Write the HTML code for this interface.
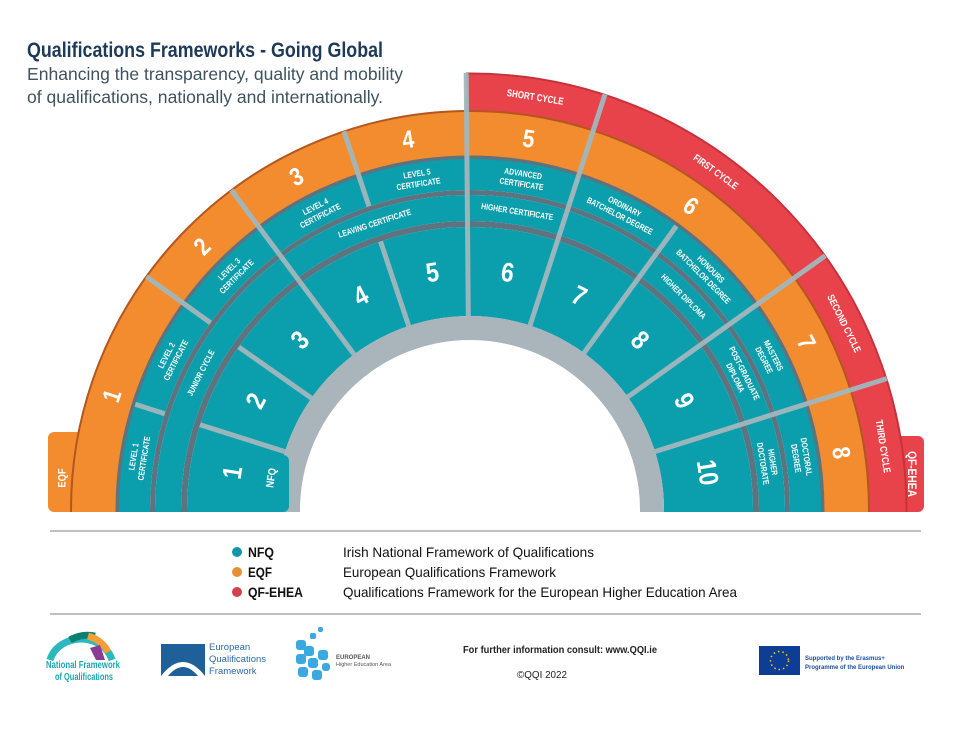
<!DOCTYPE html>
<html><head><meta charset="utf-8"><style>
html,body{margin:0;padding:0;background:#fff;overflow:hidden;width:972px;height:729px;}
body{position:relative;}
svg{position:absolute;left:0;top:0;display:block;}
.c{font-family:"Liberation Sans",sans-serif;font-weight:bold;fill:#fff;text-anchor:middle;dominant-baseline:central;}
</style></head><body>
<svg width="972" height="729" viewBox="0 0 972 729">
<defs>
<clipPath id="top"><rect x="0" y="0" width="972" height="512"/></clipPath>
<clipPath id="red"><rect x="466" y="0" width="506" height="512"/></clipPath>
</defs>
<text x="27" y="57" textLength="356" lengthAdjust="spacingAndGlyphs" style="font-family:'Liberation Sans',sans-serif;font-weight:bold;font-size:21px;fill:#1d3a58">Qualifications Frameworks - Going Global</text>
<text x="27" y="80" textLength="376" lengthAdjust="spacingAndGlyphs" style="font-family:'Liberation Sans',sans-serif;font-size:17.5px;fill:#3f5260">Enhancing the transparency, quality and mobility</text>
<text x="27" y="103" textLength="356" lengthAdjust="spacingAndGlyphs" style="font-family:'Liberation Sans',sans-serif;font-size:17.5px;fill:#3f5260">of qualifications, nationally and internationally.</text>

<rect x="48" y="432" width="40" height="80" rx="6" fill="#f28c2e"/>
<rect x="886" y="436" width="38" height="76" rx="6" fill="#e8434b"/>
<g clip-path="url(#top)">
 <g clip-path="url(#red)">
  <circle cx="470" cy="510" r="418" fill="none" stroke="#e8434b" stroke-width="38"/>
  <circle cx="470" cy="510" r="436.5" fill="none" stroke="#c6323b" stroke-width="2"/>
 </g>
 <circle cx="470" cy="510" r="376.5" fill="none" stroke="#f28c2e" stroke-width="45"/>
 <circle cx="470" cy="510" r="399" fill="none" stroke="#b3561f" stroke-width="2"/>
 <circle cx="470" cy="510" r="352.5" fill="none" stroke="#5e7380" stroke-width="4"/>
 <circle cx="470" cy="510" r="335.5" fill="none" stroke="#0b9eac" stroke-width="31"/>
 <circle cx="470" cy="510" r="317.5" fill="none" stroke="#5e7380" stroke-width="5"/>
 <circle cx="470" cy="510" r="302" fill="none" stroke="#0b9eac" stroke-width="26"/>
 <circle cx="470" cy="510" r="286" fill="none" stroke="#5e7380" stroke-width="6"/>
 <circle cx="470" cy="510" r="238.5" fill="none" stroke="#0b9eac" stroke-width="89"/>
 <circle cx="470" cy="510" r="182" fill="none" stroke="#a9b4bb" stroke-width="24"/>
</g>
<rect x="250" y="455" width="39" height="57" rx="6" fill="#0b9eac"/>
<rect x="250" y="455" width="15" height="57" fill="#0b9eac"/>

<g stroke="#a2b7bc" stroke-width="5" opacity="0.95">
 <line x1="231.4" y1="190" x2="354" y2="354.4"/>
 <line x1="466.2" y1="73" x2="468.3" y2="316"/>
 <line x1="605" y1="94.4" x2="530" y2="325.5"/>
 <line x1="825.3" y1="255.7" x2="627.7" y2="397"/>
 <line x1="886.8" y1="378.6" x2="655" y2="451.6"/>
 <line x1="146.4" y1="276.6" x2="210.5" y2="322.8"/>
 <line x1="135.2" y1="404.3" x2="164.7" y2="413.7"/>
 <line x1="200" y1="424.8" x2="284.9" y2="451.6"/>
 <line x1="344" y1="131.3" x2="369" y2="206.3"/>
 <line x1="380.6" y1="241.5" x2="408.7" y2="325.9"/>
 <line x1="238.8" y1="347" x2="311.5" y2="398.2"/>
 <line x1="676.4" y1="226" x2="584" y2="353"/>
</g>

<g class="c" style="font-size:27px">
<text transform="translate(232.9,472.5) rotate(-81) scale(0.85,1)">1</text>
<text transform="translate(256.2,401) rotate(-63) scale(0.85,1)">2</text>
<text transform="translate(300.3,340.3) rotate(-45) scale(0.85,1)">3</text>
<text transform="translate(361,296.2) rotate(-27) scale(0.85,1)">4</text>
<text transform="translate(432.5,272.9) rotate(-9) scale(0.85,1)">5</text>
<text transform="translate(507.5,272.9) rotate(9) scale(0.85,1)">6</text>
<text transform="translate(579,296.2) rotate(27) scale(0.85,1)">7</text>
<text transform="translate(639.7,340.3) rotate(45) scale(0.85,1)">8</text>
<text transform="translate(683.8,401) rotate(63) scale(0.85,1)">9</text>
<text transform="translate(707.1,472.5) rotate(81) scale(0.85,1)">10</text>
</g>
<g class="c" style="font-size:25px">
<text transform="translate(111.7,395.7) rotate(-72) scale(0.85,1)">1</text>
<text transform="translate(201.9,246.4) rotate(-45) scale(0.85,1)">2</text>
<text transform="translate(296.3,176.5) rotate(-27) scale(0.85,1)">3</text>
<text transform="translate(408,139.3) rotate(-9) scale(0.85,1)">4</text>
<text transform="translate(528.7,138.5) rotate(9) scale(0.85,1)">5</text>
<text transform="translate(691,205.8) rotate(36) scale(0.85,1)">6</text>
<text transform="translate(806.5,342.3) rotate(63) scale(0.85,1)">7</text>
<text transform="translate(841.5,452.8) rotate(81) scale(0.85,1)">8</text>
</g>
<g class="c" style="font-size:10px">
<text transform="translate(535.2,97.1) rotate(9) scale(0.8,1)">SHORT CYCLE</text>
<text transform="translate(715.8,171.8) rotate(36) scale(0.8,1)">FIRST CYCLE</text>
<text transform="translate(844.1,323.5) rotate(63.5) scale(0.8,1)">SECOND CYCLE</text>
<text transform="translate(883.1,446.4) rotate(81) scale(0.8,1)">THIRD CYCLE</text>
</g>
<g class="c" style="font-size:8.5px">
<text transform="translate(138.1,457.4) rotate(-81) scale(0.8,1)"><tspan x="0" y="-5">LEVEL 1</tspan><tspan x="0" y="5.5">CERTIFICATE</tspan></text>
<text transform="translate(170.6,357.5) rotate(-63) scale(0.8,1)"><tspan x="0" y="-5">LEVEL 2</tspan><tspan x="0" y="5.5">CERTIFICATE</tspan></text>
<text transform="translate(232.4,272.4) rotate(-45) scale(0.8,1)"><tspan x="0" y="-5">LEVEL 3</tspan><tspan x="0" y="5.5">CERTIFICATE</tspan></text>
<text transform="translate(317.5,210.6) rotate(-27) scale(0.8,1)"><tspan x="0" y="-5">LEVEL 4</tspan><tspan x="0" y="5.5">CERTIFICATE</tspan></text>
<text transform="translate(417.6,178.1) rotate(-9) scale(0.8,1)"><tspan x="0" y="-5">LEVEL 5</tspan><tspan x="0" y="5.5">CERTIFICATE</tspan></text>
<text transform="translate(522.4,178.1) rotate(9) scale(0.8,1)"><tspan x="0" y="-5">ADVANCED</tspan><tspan x="0" y="5.5">CERTIFICATE</tspan></text>
<text transform="translate(622.5,210.6) rotate(27) scale(0.8,1)"><tspan x="0" y="-5">ORDINARY</tspan><tspan x="0" y="5.5">BATCHELOR DEGREE</tspan></text>
<text transform="translate(707.6,272.4) rotate(45) scale(0.8,1)"><tspan x="0" y="-5">HONOURS</tspan><tspan x="0" y="5.5">BATCHELOR DEGREE</tspan></text>
<text transform="translate(769.4,357.5) rotate(63) scale(0.8,1)"><tspan x="0" y="-5">MASTERS</tspan><tspan x="0" y="5.5">DEGREE</tspan></text>
<text transform="translate(801.9,457.4) rotate(81) scale(0.8,1)"><tspan x="0" y="-5">DOCTORAL</tspan><tspan x="0" y="5.5">DEGREE</tspan></text>
</g>
<g class="c" style="font-size:8.5px">
<text transform="translate(200.9,372.9) rotate(-63) scale(0.8,1)">JUNIOR CYCLE</text>
<text transform="translate(374.7,223.4) rotate(-18) scale(0.8,1)">LEAVING CERTIFICATE</text>
<text transform="translate(517.2,211.7) rotate(9) scale(0.8,1)">HIGHER CERTIFICATE</text>
<text transform="translate(683.5,296.5) rotate(45) scale(0.8,1)">HIGHER DIPLOMA</text>
<text transform="translate(740.3,375.3) rotate(63.5) scale(0.8,1)"><tspan x="0" y="-5">POST-GRADUATE</tspan><tspan x="0" y="5">DIPLOMA</tspan></text>
<text transform="translate(768.3,462.8) rotate(81) scale(0.8,1)"><tspan x="0" y="-5">HIGHER</tspan><tspan x="0" y="5">DOCTORATE</tspan></text>
</g>
<g class="c">
<text transform="translate(272,478) rotate(-81) scale(0.85,1)" style="font-size:11px">NFQ</text>
<text transform="translate(63,478) rotate(-90) scale(0.85,1)" style="font-size:11px">EQF</text>
<text transform="translate(911,474) rotate(90) scale(0.85,1)" style="font-size:12px">QF-EHEA</text>
</g>

<line x1="50" y1="531" x2="921" y2="531" stroke="#9a9a9a" stroke-width="1.2"/>
<line x1="50" y1="614" x2="921" y2="614" stroke="#9a9a9a" stroke-width="1.2"/>
<circle cx="237" cy="552" r="5" fill="#1596a4"/>
<circle cx="237" cy="572" r="5" fill="#e68f3a"/>
<circle cx="237" cy="592" r="5" fill="#d2434c"/>
<g style="font-family:'Liberation Sans',sans-serif;font-size:14px;fill:#111">
<text x="248" y="557" font-weight="bold" textLength="26" lengthAdjust="spacingAndGlyphs">NFQ</text>
<text x="248" y="577" font-weight="bold" textLength="24" lengthAdjust="spacingAndGlyphs">EQF</text>
<text x="248" y="597" font-weight="bold" textLength="55" lengthAdjust="spacingAndGlyphs">QF-EHEA</text>
<text x="343" y="557" textLength="251" lengthAdjust="spacingAndGlyphs">Irish National Framework of Qualifications</text>
<text x="343" y="577" textLength="213" lengthAdjust="spacingAndGlyphs">European Qualifications Framework</text>
<text x="343" y="597" textLength="394" lengthAdjust="spacingAndGlyphs">Qualifications Framework for the European Higher Education Area</text>
</g>

<path d="M50 660 A32 28 0 0 1 112 660" fill="none" stroke="#2bb9bf" stroke-width="7"/>
<path d="M70 640 A32 28 0 0 1 95 636" fill="none" stroke="#0d7f73" stroke-width="7"/>
<path d="M88 636 A32 28 0 0 1 108 652" fill="none" stroke="#f3a03a" stroke-width="7"/>
<path d="M90 648 L100 645 L105 660 L96 660Z" fill="#8a3b96"/>
<text x="46" y="668" textLength="74" lengthAdjust="spacingAndGlyphs" style="font-family:'Liberation Sans',sans-serif;font-weight:bold;font-size:10px;fill:#1aa7b0">National Framework</text>
<text x="55" y="680" textLength="58" lengthAdjust="spacingAndGlyphs" style="font-family:'Liberation Sans',sans-serif;font-weight:bold;font-size:10px;fill:#1aa7b0">of Qualifications</text>
<rect x="161" y="644" width="44" height="32" fill="#1f5f9a"/>
<path d="M161 676 Q183 648 205 676 L198 676 Q183 658 168 676Z" fill="#fff"/>
<g style="font-family:'Liberation Sans',sans-serif;font-size:9.5px;fill:#2a6aa8">
<text x="209" y="650">European</text><text x="209" y="662">Qualifications</text><text x="209" y="674">Framework</text>
</g>
<g fill="#3aa9e0">
<rect x="296" y="640" width="10" height="10" rx="3"/><rect x="304" y="646" width="10" height="10" rx="3"/>
<rect x="296" y="654" width="10" height="10" rx="3"/><rect x="308" y="658" width="10" height="10" rx="3"/>
<rect x="318" y="650" width="10" height="10" rx="3"/><rect x="298" y="667" width="10" height="10" rx="3"/>
<rect x="312" y="670" width="10" height="10" rx="3"/><rect x="322" y="663" width="8" height="8" rx="3"/>
<rect x="310" y="633" width="6" height="6" rx="2"/><rect x="318" y="627" width="5" height="5" rx="2"/>
</g>
<text x="336" y="659" style="font-family:'Liberation Sans',sans-serif;font-weight:bold;font-size:6px;fill:#555">EUROPEAN</text>
<text x="336" y="666" style="font-family:'Liberation Sans',sans-serif;font-size:5.5px;fill:#555">Higher Education Area</text>
<text x="463" y="653" textLength="194" lengthAdjust="spacingAndGlyphs" style="font-family:'Liberation Sans',sans-serif;font-weight:bold;font-size:10px;fill:#222">For further information consult: www.QQI.ie</text>
<text x="517" y="678" textLength="50" lengthAdjust="spacingAndGlyphs" style="font-family:'Liberation Sans',sans-serif;font-size:10px;fill:#222">©QQI 2022</text>
<rect x="759" y="646" width="41" height="29" fill="#0d3d94"/>
<circle cx="779.5" cy="660.5" r="9" fill="none" stroke="#f5d000" stroke-width="1.5" stroke-dasharray="1.5 3"/>
<text x="805" y="660" style="font-family:'Liberation Sans',sans-serif;font-weight:bold;font-size:6px;fill:#1a4fa0">Supported by the Erasmus+</text>
<text x="805" y="669" style="font-family:'Liberation Sans',sans-serif;font-weight:bold;font-size:6px;fill:#1a4fa0">Programme of the European Union</text>
</svg>
</body></html>
